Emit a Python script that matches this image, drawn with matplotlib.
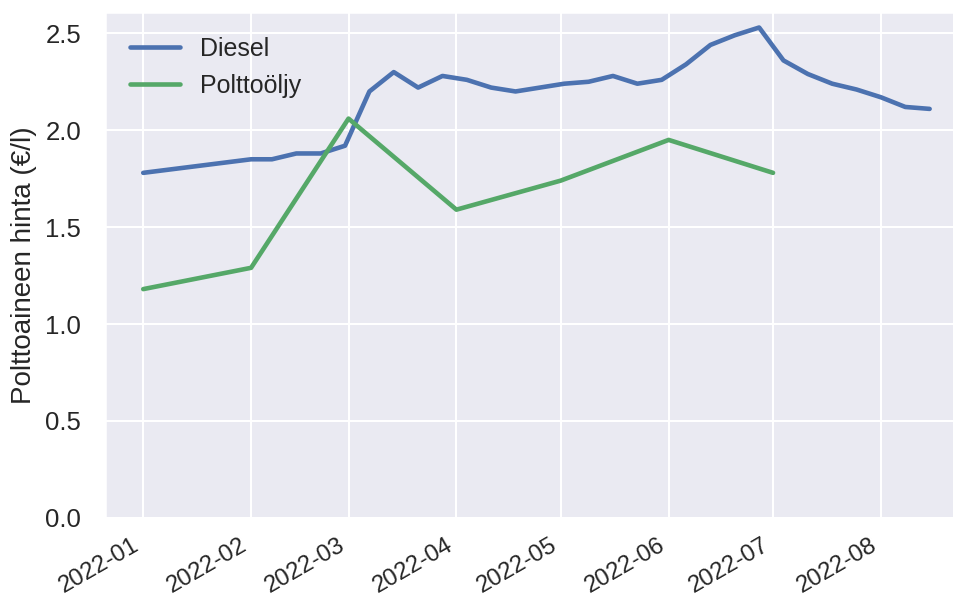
import matplotlib
matplotlib.use("Agg")
import matplotlib.pyplot as plt
import matplotlib.dates as mdates
import numpy as np
import pandas as pd
import seaborn as sns

# Diesel price (EUR/l): Jan 1, Feb 1, then weekly
diesel_dates = pd.to_datetime([
    "2022-01-01", "2022-02-01", "2022-02-07", "2022-02-14", "2022-02-21",
    "2022-02-28", "2022-03-07", "2022-03-14", "2022-03-21", "2022-03-28",
    "2022-04-04", "2022-04-11", "2022-04-18", "2022-04-25", "2022-05-02",
    "2022-05-09", "2022-05-16", "2022-05-23", "2022-05-30", "2022-06-06",
    "2022-06-13", "2022-06-20", "2022-06-27", "2022-07-04", "2022-07-11",
    "2022-07-18", "2022-07-25", "2022-08-01", "2022-08-08", "2022-08-15",
])
diesel = [1.78, 1.85, 1.85, 1.88, 1.88,
          1.92, 2.20, 2.30, 2.22, 2.28,
          2.26, 2.22, 2.20, 2.22, 2.24,
          2.25, 2.28, 2.24, 2.26, 2.34,
          2.44, 2.49, 2.53, 2.36, 2.29,
          2.24, 2.21, 2.17, 2.12, 2.11]

# Light fuel oil price (EUR/l), monthly
oil_dates = pd.to_datetime([
    "2022-01-01", "2022-02-01", "2022-03-01", "2022-04-01",
    "2022-05-01", "2022-06-01", "2022-07-01",
])
oil = [1.18, 1.29, 2.06, 1.59, 1.74, 1.95, 1.78]

sns.set_theme(style="darkgrid", context="talk")
plt.rcParams["font.family"] = ["Liberation Sans", "DejaVu Sans"]

fig = plt.figure(figsize=(9.54, 6), dpi=100)
ax = fig.add_axes([0.110, 0.137, 0.890, 0.843])

ax.plot(diesel_dates, diesel, color="#4c72b0", lw=3.3, label="Diesel")
ax.plot(oil_dates, oil, color="#55a868", lw=3.3, label="Polttoöljy")

ax.set_ylim(0, 2.61)
ax.set_xlim(pd.Timestamp("2021-12-21"), pd.Timestamp("2022-08-22"))
ax.xaxis.set_major_locator(mdates.MonthLocator())
ax.xaxis.set_major_formatter(mdates.DateFormatter("%Y-%m"))
ax.tick_params(axis="y", labelsize=18.5, pad=8)
ax.tick_params(axis="x", labelsize=17.3, pad=3)
ax.set_ylabel("Polttoaineen hinta (€/l)", fontsize=20, labelpad=6)
ax.legend(loc="upper left", frameon=False, fontsize=18,
          handlelength=2.0, borderaxespad=0.6)

for lbl in ax.get_xticklabels():
    lbl.set_rotation(30)
    lbl.set_ha("right")

fig.savefig("out.png", dpi=100)
